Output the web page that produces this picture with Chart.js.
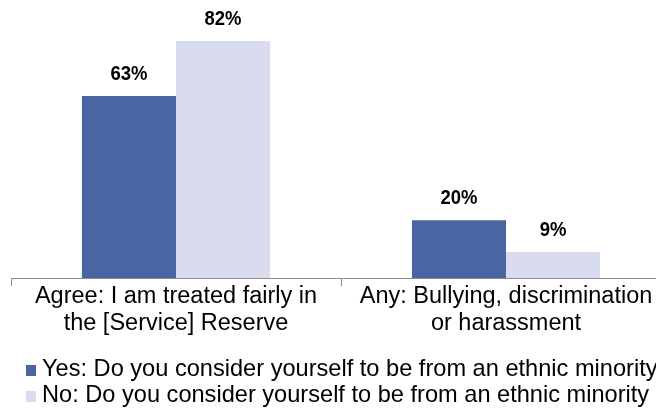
<!DOCTYPE html>
<html>
<head>
<meta charset="utf-8">
<style>
  html, body { margin: 0; padding: 0; overflow: hidden; background: #ffffff; }
  #wrap { width: 711px; height: 411px; }
</style>
<script src="https://cdn.jsdelivr.net/npm/chart.js@4"></script>
</head>
<body>
<div id="wrap"><canvas id="c" width="711" height="411"></canvas></div>
<script>
// Survey categories (two-line axis labels)
const categories = [
  ["Agree: I am treated fairly in", "the [Service] Reserve"],
  ["Any: Bullying, discrimination", "or harassment"]
];
// Series names
const seriesNames = [
  "Yes: Do you consider yourself to be from an ethnic minority",
  "No: Do you consider yourself to be from an ethnic minority"
];
// Percentages per category
const yesValues = [63, 20];
const noValues = [82, 9];

const seriesColors = ["#4a65a1", "#d9dcef"];
const textFont = '"Liberation Sans", Arial, sans-serif';

// Bold, condensed percentage labels above each bar
const valueLabels = {
  id: "valueLabels",
  afterDatasetsDraw(chart) {
    const ctx = chart.ctx;
    chart.data.datasets.forEach((ds, i) => {
      chart.getDatasetMeta(i).data.forEach((bar, j) => {
        ctx.save();
        ctx.translate(bar.x, bar.y - 16);
        ctx.scale(0.88, 1);
        ctx.font = "bold 21px " + textFont;
        ctx.fillStyle = "#000000";
        ctx.textAlign = "center";
        ctx.textBaseline = "alphabetic";
        ctx.fillText(ds.data[j] + "%", 0, 0);
        ctx.restore();
      });
    });
  }
};

// Legend drawn as stacked rows with small square swatches
const legendRows = {
  id: "legendRows",
  afterDraw(chart) {
    const ctx = chart.ctx;
    ctx.save();
    ctx.font = "23.6px " + textFont;
    ctx.textAlign = "left";
    ctx.textBaseline = "alphabetic";
    chart.data.datasets.forEach((ds, i) => {
      const top = 365 + i * 26;
      ctx.fillStyle = ds.backgroundColor;
      ctx.fillRect(26, top, 10, 11);
      ctx.fillStyle = "#000000";
      ctx.fillText(ds.label, 42, top + 11);
    });
    ctx.restore();
  }
};

new Chart(document.getElementById("c"), {
  type: "bar",
  data: {
    labels: categories,
    datasets: [
      { label: seriesNames[0], data: yesValues, backgroundColor: seriesColors[0], borderWidth: 0 },
      { label: seriesNames[1], data: noValues, backgroundColor: seriesColors[1], borderWidth: 0 }
    ]
  },
  options: {
    responsive: false,
    animation: false,
    devicePixelRatio: 1,
    layout: { padding: { left: 11, right: 40, top: 18, bottom: 0 } },
    datasets: { bar: { categoryPercentage: 0.57, barPercentage: 1.0 } },
    plugins: {
      legend: { display: false },
      tooltip: { enabled: false }
    },
    scales: {
      x: {
        afterFit(scale) { scale.height = 133; },
        grid: {
          display: true,
          offset: true,
          drawOnChartArea: false,
          drawTicks: true,
          tickLength: 8,
          color: "#8c8c8c",
          lineWidth: 1
        },
        border: { display: true, color: "#8c8c8c", width: 1 },
        ticks: {
          color: "#000000",
          padding: -3,
          maxRotation: 0,
          autoSkip: false,
          font: { family: textFont, size: 23.5, lineHeight: "27px" }
        }
      },
      y: {
        display: false,
        min: 0,
        max: 90
      }
    }
  },
  plugins: [valueLabels, legendRows]
});
</script>
</body>
</html>
